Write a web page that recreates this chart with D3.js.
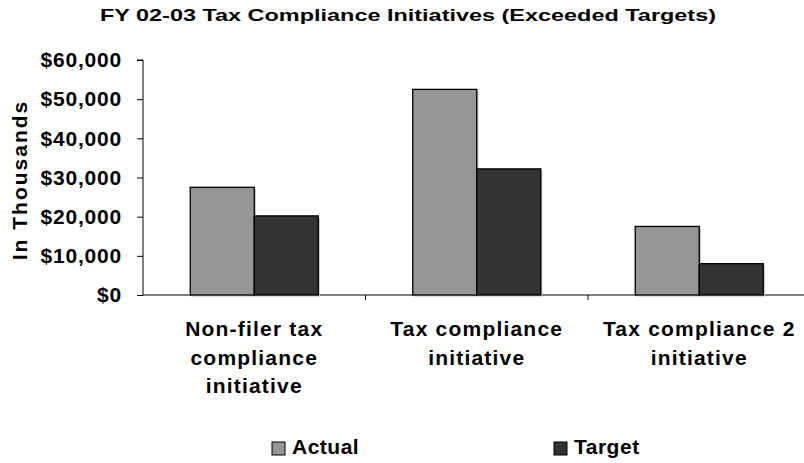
<!DOCTYPE html>
<html>
<head>
<meta charset="utf-8">
<script src="https://cdn.jsdelivr.net/npm/d3@7"></script>
<style>
  body { margin: 0; background: #fff; }
  text { font-family: 'Liberation Sans', Arial, sans-serif; font-weight: bold; fill: #000; }
</style>
</head>
<body>
<svg width="804" height="463"></svg>
<script>
const categories = [
  ['Non-filer tax', 'compliance', 'initiative'],
  ['Tax compliance', 'initiative'],
  ['Tax compliance 2', 'initiative']
];
const seriesNames = ['Actual', 'Target'];
const actual = [27500, 52500, 17500];
const target = [20200, 32200, 8000];
const yTicks = [0, 10000, 20000, 30000, 40000, 50000, 60000];
const colors = ['#969696', '#333333'];

const svg = d3.select('svg');
const plotLeft = 143, plotTop = 60, plotBottom = 295, step = 222.5;
const plotRight = plotLeft + step * categories.length;

const y = d3.scaleLinear().domain([0, 60000]).range([plotBottom, plotTop]);
const x = d3.scaleBand().domain(d3.range(categories.length)).range([plotLeft, plotRight]);
const barW = 64;

svg.append('text')
  .attr('x', 408).attr('y', 21)
  .attr('text-anchor', 'middle')
  .attr('font-size', '17px')
  .attr('textLength', 616)
  .attr('lengthAdjust', 'spacingAndGlyphs')
  .text('FY 02-03 Tax Compliance Initiatives (Exceeded Targets)');

// y axis
const yAxis = d3.axisLeft(y).tickValues(yTicks).tickSize(6).tickPadding(15)
  .tickFormat(d => '$' + d3.format(',')(d));
const ya = svg.append('g').attr('transform', 'translate(' + plotLeft + ',0)').call(yAxis);
ya.select('.domain').attr('stroke', '#000').attr('d', 'M-6,' + plotTop + 'H0V' + plotBottom);
ya.selectAll('.tick line').attr('stroke', '#000');
ya.selectAll('.tick text').attr('font-size', '21px').attr('fill', '#000')
  .attr('letter-spacing', '0.8px')
  .attr('font-family', "'Liberation Sans', Arial, sans-serif").attr('font-weight', 'bold');

svg.append('text')
  .attr('transform', 'translate(27,180) rotate(-90)')
  .attr('text-anchor', 'middle')
  .attr('font-size', '21px')
  .attr('letter-spacing', '2px')
  .text('In Thousands');

// x axis line and ticks between categories
svg.append('line').attr('x1', plotLeft).attr('x2', 804).attr('y1', plotBottom).attr('y2', plotBottom)
  .attr('stroke', '#000');
d3.range(1, categories.length + 1).forEach(i => {
  const tx = plotLeft + i * step;
  svg.append('line').attr('x1', tx).attr('x2', tx).attr('y1', plotBottom).attr('y2', plotBottom + 5)
    .attr('stroke', '#000');
});

// bars
const data = categories.map((c, i) => [actual[i], target[i]]);
const groups = svg.append('g').selectAll('g').data(data).join('g');
groups.each(function(vals, i) {
  const cx = x(i) + x.bandwidth() / 2;
  const g = d3.select(this);
  vals.forEach((v, j) => {
    const bx = cx - barW + j * barW;
    g.append('rect')
      .attr('x', bx + 1.5).attr('y', y(v) + 1.5)
      .attr('width', barW).attr('height', plotBottom - y(v))
      .attr('fill', '#bbb');
    g.append('rect')
      .attr('x', bx).attr('y', y(v))
      .attr('width', barW).attr('height', plotBottom - y(v))
      .attr('fill', colors[j]).attr('stroke', '#000').attr('stroke-width', 1.3);
  });
});

// category labels
categories.forEach((lines, i) => {
  const cx = x(i) + x.bandwidth() / 2;
  const t = svg.append('text').attr('text-anchor', 'middle').attr('font-size', '21px')
    .attr('letter-spacing', '1.2px');
  lines.forEach((l, k) => {
    t.append('tspan').attr('x', cx).attr('y', 336 + k * 28.5).text(l);
  });
});

// legend
const legendX = [272, 554];
seriesNames.forEach((s, j) => {
  svg.append('rect').attr('x', legendX[j]).attr('y', 442).attr('width', 13).attr('height', 13)
    .attr('fill', colors[j]).attr('stroke', '#000').attr('stroke-width', 1);
  svg.append('text').attr('x', legendX[j] + 20).attr('y', 454)
    .attr('font-size', '21px').attr('letter-spacing', '0.5px').text(s);
});
</script>
</body>
</html>
